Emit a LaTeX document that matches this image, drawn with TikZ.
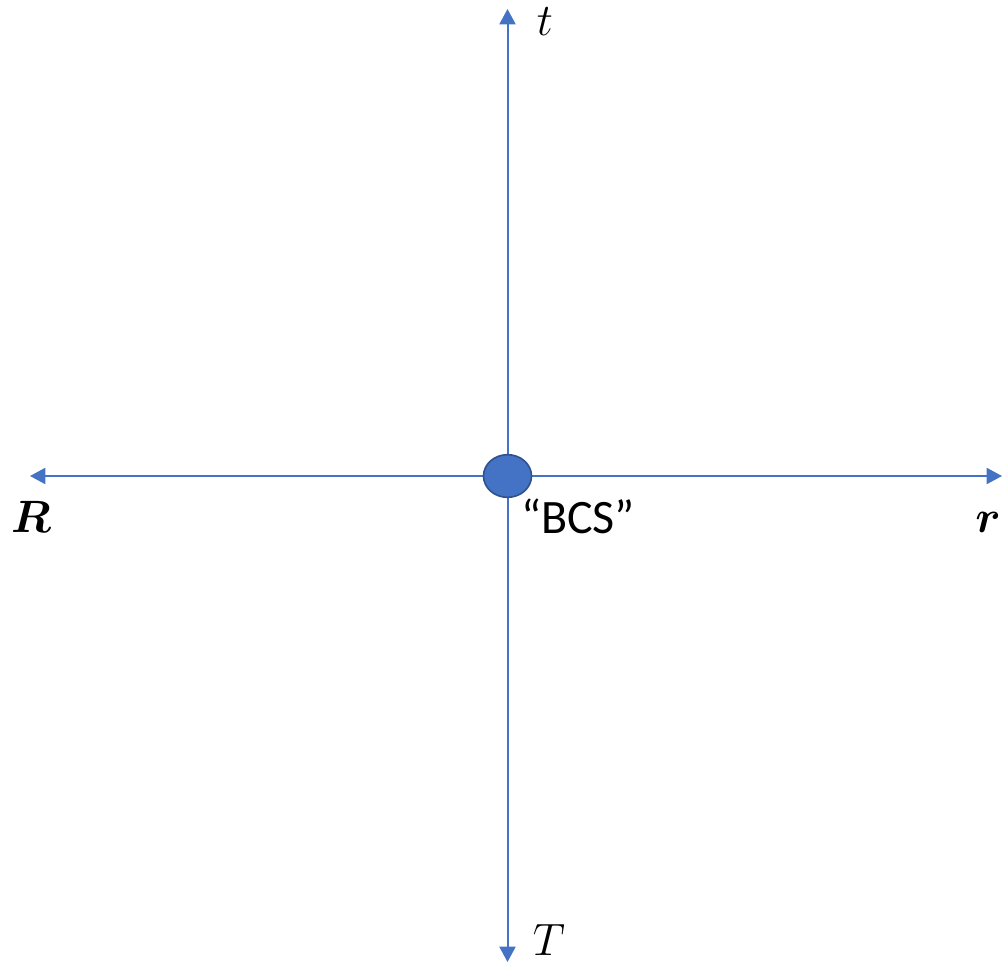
\documentclass[tikz,border=0pt]{standalone}
\usepackage{fix-cm}
\usepackage{amsmath}
\usepackage{fontspec}
\newfontfamily\carlito{Carlito}
\usetikzlibrary{arrows.meta,shapes.geometric}
\definecolor{axisblue}{HTML}{4472C4}
\definecolor{edgeblue}{HTML}{2F528F}
\begin{document}
\begin{tikzpicture}[x=0.75pt,y=-0.75pt,
  axis/.style={draw=axisblue,line width=1.5pt,-{Triangle[length=11.5pt,width=12pt]}},
  mathlbl/.style={inner sep=0pt,font=\fontsize{34}{40}\selectfont},
  textlbl/.style={inner sep=0pt,font=\carlito\fontsize{36}{40}\selectfont}]
\useasboundingbox (0,0) rectangle (1005,963);
\coordinate (o) at (507.5,476);
\coordinate (top) at (507.5,9);
\coordinate (bot) at (507.5,962);
\coordinate (lft) at (30,476);
\coordinate (rgt) at (1002,476);
\draw[axis] (o) -- (top);
\draw[axis] (o) -- (bot);
\draw[axis] (o) -- (lft);
\draw[axis] (o) -- (rgt);
\node[ellipse,draw=edgeblue,fill=axisblue,line width=1.2pt,minimum width=36pt,minimum height=32pt,inner sep=0pt] (bcs) at (o) {};
\node[mathlbl,anchor=base] (tl) at (545,36) {$t$};
\node[mathlbl,anchor=base] (Tl) at (549,955) {$T$};
\node[mathlbl,anchor=base] (Rl) at (31,532) {$\boldsymbol{R}$};
\node[mathlbl,anchor=base] (rl) at (988,532) {$\boldsymbol{r}$};
\node[textlbl,anchor=base] (lbl) at (578,533) {“BCS”};
\end{tikzpicture}
\end{document}
